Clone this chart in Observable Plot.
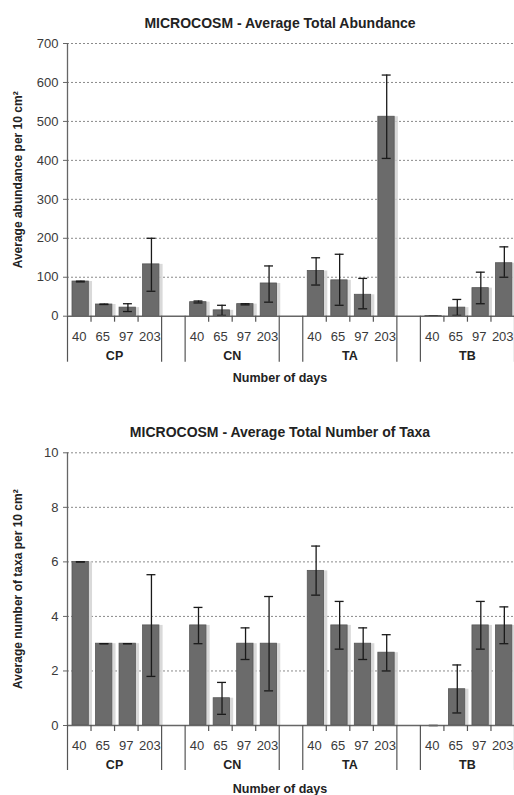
<!DOCTYPE html>
<html>
<head>
<meta charset="utf-8">
<script src="https://cdn.jsdelivr.net/npm/d3@7"></script>
<script src="https://cdn.jsdelivr.net/npm/@observablehq/plot@0.6"></script>
<style>
  html, body { margin: 0; padding: 0; background: #fff; }
  body { width: 514px; font-family: "Liberation Sans", Arial, sans-serif; }
  .title { width: 514px; box-sizing: border-box; text-align: center; font-weight: bold; font-size: 14px; line-height: 18px; color: #222; padding-left: 46px; }
  #t1 { padding-top: 14px; }
  #t2 { padding-top: 28px; }
  svg { display: block; }
</style>
</head>
<body>
<div class="title" id="t1">MICROCOSM - Average Total Abundance</div>
<div id="c1"></div>
<div class="title" id="t2">MICROCOSM - Average Total Number of Taxa</div>
<div id="c2"></div>
<script>
const groups = ["CP", "CN", "TA", "TB"];
const days = ["40", "65", "97", "203"];

const abundanceMean = [89, 30, 22, 133, 36, 15, 31, 84, 116, 92, 55, 512, 0.5, 22, 72, 136];
const abundanceLow  = [88, 30, 12, 64, 34, 2, 29, 36, 80, 28, 19, 405, 0.5, 2, 32, 100];
const abundanceHigh = [90, 31, 32, 200, 39, 28, 32, 129, 150, 159, 97, 619, 0.5, 43, 113, 178];
const abundanceTicks = [0, 100, 200, 300, 400, 500, 600, 700];

const taxaMean = [6, 3, 3, 3.67, 3.67, 1, 3, 3, 5.67, 3.67, 3, 2.67, 0, 1.33, 3.67, 3.67];
const taxaLow  = [6, 3, 3, 1.8, 3.0, 0.41, 2.42, 1.27, 4.78, 2.8, 2.42, 2.0, 0, 0.46, 2.8, 3.0];
const taxaHigh = [6, 3, 3, 5.53, 4.33, 1.58, 3.58, 4.73, 6.58, 4.55, 3.58, 3.33, 0, 2.22, 4.55, 4.35];
const taxaTicks = [0, 2, 4, 6, 8, 10];

const slotsPerGroup = days.length + 1;
const nSlots = groups.length * slotsPerGroup - 1;

function buildRows(mean, low, high) {
  const rows = [];
  groups.forEach((g, gi) => {
    days.forEach((d, di) => {
      const k = gi * days.length + di;
      const slot = gi * slotsPerGroup + di;
      rows.push({group: g, day: d, slot, x1: slot, x2: slot + 1, xc: slot + 0.5,
        mean: mean[k], low: low[k], high: high[k]});
    });
  });
  return rows;
}

const groupInfo = groups.map((g, gi) => ({group: g, start: gi * slotsPerGroup, center: gi * slotsPerGroup + days.length / 2}));
const separators = groupInfo.flatMap(d => [d.start, d.start + days.length]);
const innerTicks = groupInfo.flatMap(d => d3.range(1, days.length).map(i => d.start + i));

const FONT = "'Liberation Sans', Arial, sans-serif";
const capHalf = 0.19;

function makeChart({rows, ticks, yLabel, height, marginTop, marginBottom, offs}) {
  const ymax = ticks[ticks.length - 1];
  return Plot.plot({
    width: 514,
    height,
    marginLeft: 67,
    marginRight: 0,
    marginTop,
    marginBottom,
    style: {fontFamily: FONT, fontSize: "13px", color: "#333", background: "#fff"},
    x: {domain: [0, nSlots], axis: null},
    y: {domain: [0, ymax], axis: null},
    marks: [
      Plot.ruleY(ticks.filter(t => t > 0), {stroke: "#8a8a8a", strokeDasharray: "2,2", strokeWidth: 1}),
      Plot.axisY({ticks, tickSize: 4, tickPadding: 5, label: null, stroke: "#666", fill: "#3a3a3a", fontSize: 13}),
      // shadow
      Plot.rectY(rows, {x1: "x1", x2: "x2", y1: 0, y2: "mean", fill: "#d2d2d2", fillOpacity: 0.85, insetLeft: 8, insetRight: -1.5}),
      // bars
      Plot.rectY(rows, {x1: "x1", x2: "x2", y1: 0, y2: "mean", fill: "#6b6b6b", stroke: "#565656", strokeWidth: 0.8, insetLeft: 5, insetRight: 2.2}),
      // error bars
      Plot.ruleX(rows, {x: "xc", y1: "low", y2: "high", stroke: "#1a1a1a", strokeWidth: 1.3, dx: 1.6}),
      Plot.ruleY(rows, {x1: d => d.xc - capHalf, x2: d => d.xc + capHalf, y: "high", stroke: "#1a1a1a", strokeWidth: 1.3, dx: 1.6}),
      Plot.ruleY(rows, {x1: d => d.xc - capHalf, x2: d => d.xc + capHalf, y: "low", stroke: "#1a1a1a", strokeWidth: 1.3, dx: 1.6}),
      // axes lines
      Plot.ruleX([0], {stroke: "#666", strokeWidth: 1.3}),
      Plot.ruleY([0], {stroke: "#666", strokeWidth: 1.5}),
      Plot.ruleX(separators, {x: d => d, y1: () => 0, y2: () => 0, insetBottom: -offs.sep, stroke: "#555", strokeWidth: 1.2}),
      Plot.ruleX(innerTicks, {x: d => d, y1: () => 0, y2: () => 0, insetBottom: -6, stroke: "#555", strokeWidth: 1.2}),
      // category labels
      Plot.text(rows, {x: "xc", y: () => 0, text: "day", dy: offs.day, fontSize: 13, fill: "#3a3a3a"}),
      Plot.text(groupInfo, {x: "center", y: () => 0, text: "group", dy: offs.group, fontSize: 12.5, fontWeight: "bold", fill: "#222"}),
      Plot.text(["Number of days"], {frameAnchor: "bottom", lineAnchor: "middle", dy: offs.title, dx: -11, text: d => d, fontSize: 12.5, fontWeight: "bold", fill: "#222"}),
      Plot.text([yLabel], {frameAnchor: "left", textAnchor: "middle", lineAnchor: "middle", dx: -49, rotate: -90, text: d => d, fontSize: 12, fontWeight: "bold", fill: "#222"})
    ]
  });
}

document.getElementById("c1").appendChild(makeChart({
  rows: buildRows(abundanceMean, abundanceLow, abundanceHigh),
  ticks: abundanceTicks,
  yLabel: "Average abundance per 10 cm²",
  height: 363, marginTop: 11, marginBottom: 79.3,
  offs: {sep: 46, day: 21, group: 40, title: 62}
}));

document.getElementById("c2").appendChild(makeChart({
  rows: buildRows(taxaMean, taxaLow, taxaHigh),
  ticks: taxaTicks,
  yLabel: "Average number of taxa per 10 cm²",
  height: 354, marginTop: 11.3, marginBottom: 70,
  offs: {sep: 45, day: 20.7, group: 39, title: 63}
}));
</script>
</body>
</html>
